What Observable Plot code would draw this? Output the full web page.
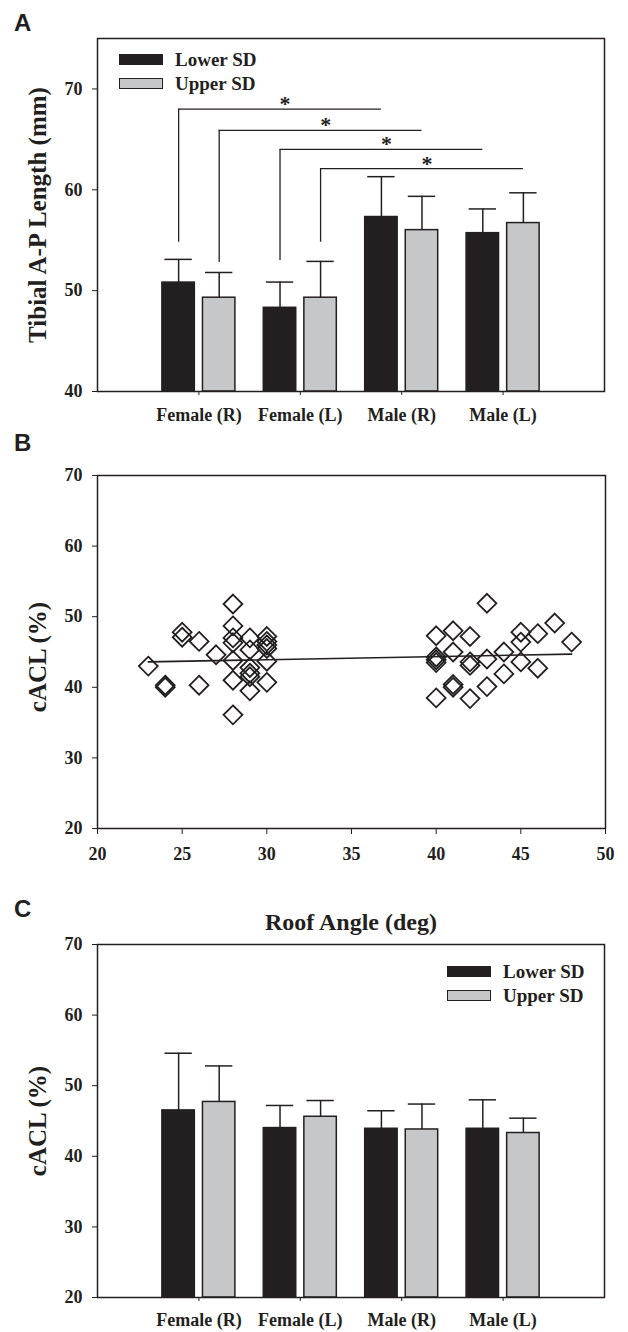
<!DOCTYPE html>
<html><head><meta charset="utf-8">
<script src="https://cdn.jsdelivr.net/npm/d3@7"></script>
<script src="https://cdn.jsdelivr.net/npm/@observablehq/plot@0.6"></script>
<style>
body{margin:0;background:#fff;}
#page{position:relative;width:628px;height:1332px;overflow:hidden;background:#fff;font-family:'Liberation Serif','Times New Roman',serif;color:#231f20;}
.panel{position:absolute;left:0;}
.letter{position:absolute;font-family:'Liberation Sans',Arial,sans-serif;font-weight:bold;font-size:24px;line-height:24px;}
.legend{position:absolute;font-weight:bold;font-size:19px;line-height:24px;}
.legend .row{display:flex;align-items:center;height:24px;}
.sw{width:44px;height:11px;box-sizing:border-box;border:1.5px solid #231f20;margin-right:12px;}
</style></head><body>
<div id="page"></div>
<script>
// ---------- data ----------
const categories = ["Female (R)", "Female (L)", "Male (R)", "Male (L)"];
const seriesNames = ["Lower SD", "Upper SD"];

// Panel A: Tibial A-P length (mm)
const tibialLowerMean = [50.8, 48.3, 57.3, 55.7];
const tibialLowerSD   = [2.3, 2.55, 4.0, 2.4];
const tibialUpperMean = [49.3, 49.3, 56.0, 56.7];
const tibialUpperSD   = [2.5, 3.6, 3.35, 3.0];
const tibialTicks = [40, 50, 60, 70];

// significance brackets (from bar -> to bar)
const sigFromCat    = ["Female (R)", "Female (R)", "Female (L)", "Female (L)"];
const sigFromSeries = ["Lower SD", "Upper SD", "Lower SD", "Upper SD"];
const sigToCat      = ["Male (R)", "Male (R)", "Male (L)", "Male (L)"];
const sigToSeries   = ["Lower SD", "Upper SD", "Lower SD", "Upper SD"];
const sigTop        = [68.0, 65.9, 64.0, 62.1];
const sigBottom     = [54.8, 52.8, 53.0, 54.8];

// Panel B: cACL (%) vs roof angle scatter
const scatterX = [23, 24, 24, 25, 25, 26, 26, 27,
  28, 28, 28, 28, 28, 28, 28,
  29, 29, 29, 29, 29, 29,
  30, 30, 30, 30, 30, 30,
  40, 40, 40, 40, 40,
  41, 41, 41, 41,
  42, 42, 42, 42,
  43, 43, 43,
  44, 44,
  45, 45, 45,
  46, 46,
  47, 48];
const scatterY = [43.0, 40.3, 40.0, 47.8, 47.1, 46.5, 40.3, 44.6,
  51.8, 48.7, 47.0, 46.3, 43.8, 41.0, 36.1,
  47.0, 45.3, 42.8, 42.0, 41.5, 39.5,
  47.2, 46.5, 46.0, 45.5, 43.7, 40.7,
  47.3, 44.3, 43.9, 43.5, 38.5,
  48.0, 45.0, 40.4, 40.0,
  47.2, 43.6, 43.1, 38.4,
  51.9, 44.0, 40.1,
  45.0, 41.9,
  47.8, 46.4, 43.6,
  47.6, 42.7,
  49.1, 46.4];
const fitX = [23, 48];
const fitY = [43.6, 44.7];
const scatterXTicks = [20, 25, 30, 35, 40, 45, 50];
const scatterYTicks = [20, 30, 40, 50, 60, 70];

// Panel C: cACL (%) by group
const roofLowerMean = [46.5, 44.0, 43.9, 43.9];
const roofLowerSD   = [8.1, 3.2, 2.55, 4.1];
const roofUpperMean = [47.7, 45.6, 43.8, 43.3];
const roofUpperSD   = [5.1, 2.3, 3.6, 2.1];
const cTicks = [20, 30, 40, 50, 60, 70];

// ---------- styling ----------
const INK = "#231f20", GREY = "#c6c7c9";
const seriesColor = {"Lower SD": INK, "Upper SD": GREY};
const seriesOffset = {"Lower SD": -0.2, "Upper SD": 0.2};
const barHalf = 0.16, capHalf = 0.135;
const pos = (cat, s) => categories.indexOf(cat) + 1 + seriesOffset[s];

function table(lowMean, lowSD, upMean, upSD) {
  const rows = [];
  categories.forEach((c, i) => {
    rows.push({cat: c, series: seriesNames[0], mean: lowMean[i], sd: lowSD[i]});
    rows.push({cat: c, series: seriesNames[1], mean: upMean[i], sd: upSD[i]});
  });
  rows.forEach(r => r.x = pos(r.cat, r.series));
  return rows;
}

const baseStyle = {fontFamily: "'Liberation Serif','Times New Roman',serif", fontWeight: "bold", fontSize: "18px", background: "transparent", overflow: "visible", color: INK};

function barMarks(rows, yMin) {
  return [
    Plot.rect(rows, {x1: d => d.x - barHalf, x2: d => d.x + barHalf, y1: () => yMin, y2: "mean",
      fill: d => seriesColor[d.series], stroke: INK, strokeWidth: 1.5}),
    Plot.ruleX(rows, {x: "x", y1: "mean", y2: d => d.mean + d.sd, stroke: INK, strokeWidth: 1.5}),
    Plot.ruleY(rows, {y: d => d.mean + d.sd, x1: d => d.x - capHalf, x2: d => d.x + capHalf, stroke: INK, strokeWidth: 1.5})
  ];
}

function yTitle(t, dy) {
  return Plot.text([t], {frameAnchor: "left", text: d => d, rotate: -90, dx: -52, dy,
    textAnchor: "middle", lineAnchor: "bottom", fontSize: 25, fill: INK});
}

const page = document.getElementById("page");
function addPanel(svg, top) {
  const d = document.createElement("div");
  d.className = "panel"; d.style.top = top + "px";
  d.appendChild(svg); page.appendChild(d);
}
function addLetter(t, left, top) {
  const d = document.createElement("div");
  d.className = "letter"; d.textContent = t;
  d.style.left = left + "px"; d.style.top = top + "px";
  page.appendChild(d);
}
function addLegend(left, top) {
  const d = document.createElement("div");
  d.className = "legend"; d.style.left = left + "px"; d.style.top = top + "px";
  seriesNames.forEach(s => {
    const r = document.createElement("div"); r.className = "row";
    const sw = document.createElement("div"); sw.className = "sw"; sw.style.background = seriesColor[s];
    const tx = document.createElement("span"); tx.textContent = s;
    r.appendChild(sw); r.appendChild(tx); d.appendChild(r);
  });
  page.appendChild(d);
}

// ---------- Panel A ----------
const rowsA = table(tibialLowerMean, tibialLowerSD, tibialUpperMean, tibialUpperSD);
const sig = sigFromCat.map((c, i) => ({
  x1: pos(c, sigFromSeries[i]), x2: pos(sigToCat[i], sigToSeries[i]), top: sigTop[i], bottom: sigBottom[i]
}));
const plotA = Plot.plot({
  width: 628, height: 430, marginLeft: 97, marginRight: 24, marginTop: 38, marginBottom: 39,
  style: baseStyle,
  x: {domain: [0, 5], label: null},
  y: {domain: [40, 75], label: null},
  marks: [
    ...barMarks(rowsA, 40),
    Plot.ruleX(sig, {x: "x1", y1: "bottom", y2: "top", stroke: INK, strokeWidth: 1.3}),
    Plot.ruleY(sig, {y: "top", x1: "x1", x2: "x2", stroke: INK, strokeWidth: 1.3}),
    Plot.text(sig, {x: d => (d.x1 + d.x2) / 2 + 0.05, y: "top", text: () => "*", fontSize: 22, lineAnchor: "bottom", dy: 2, fill: INK}),
    Plot.frame({stroke: INK, strokeWidth: 1.5}),
    Plot.axisY({ticks: tibialTicks, tickSize: 5, tickPadding: 10, label: null, stroke: INK}),
    Plot.axisX({ticks: [1, 2, 3, 4], tickFormat: i => categories[i - 1], tickSize: 4, tickPadding: 13, label: null, stroke: INK}),
    yTitle("Tibial A-P Length (mm)", 0)
  ]
});
addPanel(plotA, 0);

// ---------- Panel B ----------
const pts = scatterX.map((x, i) => ({x, y: scatterY[i]}));
const fit = fitX.map((x, i) => ({x, y: fitY[i]}));
const plotB = Plot.plot({
  width: 628, height: 440, marginLeft: 97, marginRight: 23, marginTop: 45, marginBottom: 42,
  style: baseStyle,
  x: {domain: [20, 50], label: null},
  y: {domain: [20, 70], label: null},
  marks: [
    Plot.line(fit, {x: "x", y: "y", stroke: INK, strokeWidth: 1.6}),
    Plot.dot(pts, {x: "x", y: "y", symbol: "diamond2", r: 8.5, fill: "none", stroke: INK, strokeWidth: 1.8}),
    Plot.frame({stroke: INK, strokeWidth: 1.5}),
    Plot.axisY({ticks: scatterYTicks, tickSize: 5, tickPadding: 10, label: null, stroke: INK}),
    Plot.axisX({ticks: scatterXTicks, tickSize: 6, tickPadding: 13, label: null, stroke: INK}),
    yTitle("cACL (%)", 5)
  ]
});
addPanel(plotB, 430);

// ---------- Panel C ----------
const rowsC = table(roofLowerMean, roofLowerSD, roofUpperMean, roofUpperSD);
const plotC = Plot.plot({
  width: 628, height: 462, marginLeft: 97, marginRight: 24, marginTop: 74, marginBottom: 35,
  style: baseStyle,
  x: {domain: [0, 5], label: null},
  y: {domain: [20, 70], label: null},
  marks: [
    ...barMarks(rowsC, 20),
    Plot.frame({stroke: INK, strokeWidth: 1.5}),
    Plot.axisY({ticks: cTicks, tickSize: 5, tickPadding: 10, label: null, stroke: INK}),
    Plot.axisX({ticks: [1, 2, 3, 4], tickFormat: i => categories[i - 1], tickSize: 4, tickPadding: 12, label: null, stroke: INK}),
    yTitle("cACL (%)", 0),
    Plot.text(["Roof Angle (deg)"], {frameAnchor: "top", text: d => d, dy: -15, lineAnchor: "bottom", fontSize: 24, fill: INK})
  ]
});
addPanel(plotC, 870);

addLetter("A", 14, 10.7);
addLetter("B", 14, 430.7);
addLetter("C", 14, 896.7);
addLegend(119, 47.5);
addLegend(447, 959.5);
</script></body></html>
